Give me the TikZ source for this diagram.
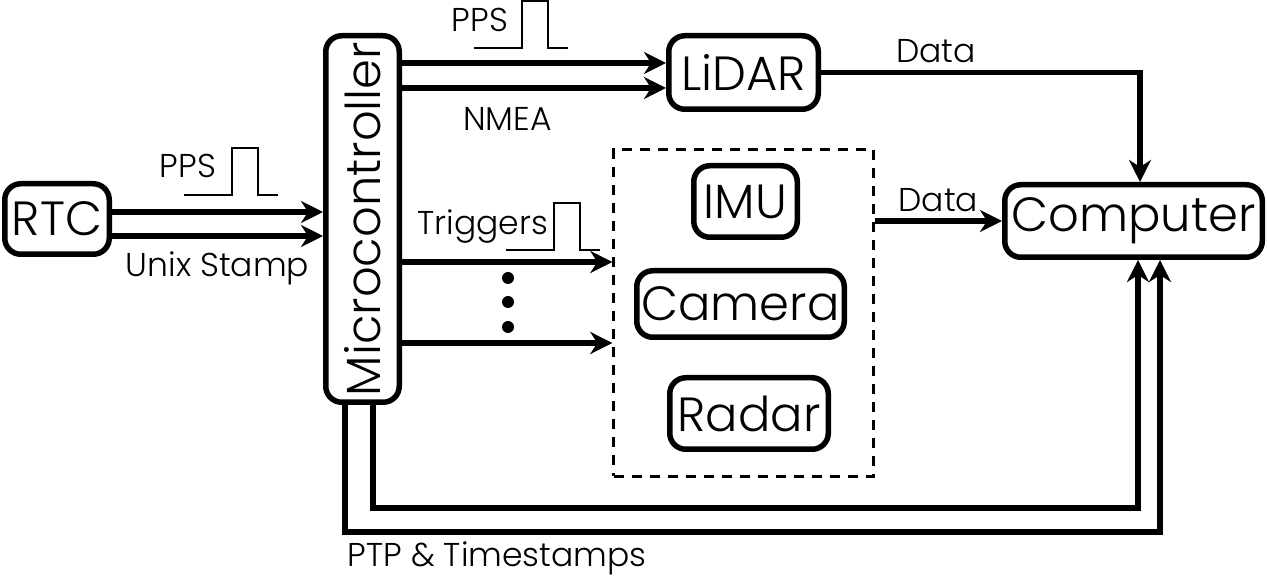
\documentclass[tikz,border=0pt]{standalone}
\usepackage{fontspec}
\setmainfont{Poppins Light}
\usetikzlibrary{arrows.meta}
\usetikzlibrary{calc}
\usetikzlibrary{positioning}
\tikzset{>={Stealth[length=11pt, width=11pt, inset=3.5pt]}}
\tikzset{
  blk/.style={draw, line width=2.75pt, rounded corners=8pt, inner sep=0pt, font=\fontsize{24}{28}\selectfont},
  sig/.style={->, line width=2.75pt},
  lbl/.style={font=\fontsize{16.5}{19}\selectfont},
  pulse/.pic={\draw[line width=1pt] (-48,0) -- (0,0) -- (0,-47) -- (26,-47) -- (26,0) -- (46,0);}
}

\begin{document}
\begin{tikzpicture}[x=0.5pt, y=-0.5pt]
            \useasboundingbox (0,0) rectangle (1267,581);
            \node[blk, minimum width=52.25pt, minimum height=35.25pt] (rtc) at (57,219) {RTC};
            \node[blk, minimum width=36.75pt, minimum height=183.25pt] (mcu) at (362.5,219) {\rotatebox{90}{Microcontroller}};
            \node[blk, minimum width=74.75pt, minimum height=36.75pt] (lidar) at (743.5,72.5) {LiDAR};
            \node[draw, dashed, dash pattern=on 5pt off 4pt, line width=1.3pt, minimum width=129.9pt, minimum height=163.4pt] (sensors) at (743.5,313) {};
            \node[blk, minimum width=51.75pt, minimum height=35.75pt] (imu) at (745.5,201.5) {IMU};
            \node[blk, minimum width=103.75pt, minimum height=33.25pt] (camera) at (740.5,304) {Camera};
            \node[blk, minimum width=79.25pt, minimum height=35.75pt] (radar) at (749,413.5) {Radar};
            \node[blk, minimum width=128.75pt, minimum height=36.25pt] (computer) at (1133.5,221) {Computer};

            \draw[sig] ($(rtc.east)+(0,-7)$) -- ($(rtc.east -| mcu.west)+(0,-7)$);
            \draw[sig] ($(rtc.east)+(0,17)$) -- ($(rtc.east -| mcu.west)+(0,17)$) node[lbl, below=3pt, midway] {Unix Stamp};
            \node[lbl, anchor=base east] (ppsrtc) at (223,178) {PPS};
            \pic at (232,195) {pulse};

            \draw[sig] ($(mcu.east |- lidar.west)+(0,-9.5)$) -- ($(lidar.west)+(0,-9.5)$);
            \draw[sig] ($(mcu.east |- lidar.west)+(0,15.5)$) -- ($(lidar.west)+(0,15.5)$) node[lbl, below=5pt, pos=0.4] {NMEA};
            \node[lbl, anchor=base east] (ppslidar) at (515,32) {PPS};
            \pic at (522,48) {pulse};

            \coordinate (trigA) at ($(sensors.west)+(0,-51)$);
            \coordinate (trigB) at ($(sensors.west)+(0,30)$);
            \draw[sig] (mcu.east |- trigA) -- (trigA);
            \draw[sig] (mcu.east |- trigB) -- (trigB);
            \node[lbl, anchor=base east] (trig) at (555,235) {Triggers};
            \pic at (554,250) {pulse};
            \foreach \y in {278,302,327}
                \fill (508,\y) circle (3pt);

            \draw[sig] (lidar.east) -| ($(computer.north)+(6.5,0)$) node[lbl, above, pos=0.18] {Data};
            \draw[sig] (sensors.east |- computer.west) -- (computer.west) node[lbl, above, midway] {Data};

            \draw[sig] ($(mcu.south)+(10.5,0)$) -- ++(0,103) -| ($(computer.south)+(4.5,0)$);
            \draw[sig] ($(mcu.south)+(-17.5,0)$) -- ++(0,127) node[lbl, below right, inner xsep=0pt] {PTP \& Timestamps} -| ($(computer.south)+(26.5,0)$);
        \end{tikzpicture}
\end{document}
